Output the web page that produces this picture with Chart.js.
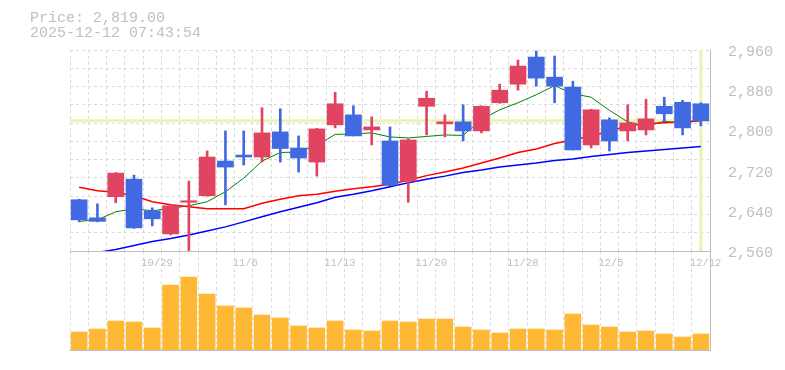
<!DOCTYPE html>
<html>
<head>
<meta charset="utf-8">
<script src="https://cdn.jsdelivr.net/npm/chart.js@4/dist/chart.umd.min.js"></script>
<style>
    body { margin: 0; background: #fff; }
    #wrap { position: relative; width: 785px; height: 370px; }
    #wrap canvas { position: absolute; left: 0; top: 0; }
    .head { position: absolute; left: 30px; font: 15px "Liberation Mono", monospace; color: #c0c0c0; line-height: 15px; white-space: pre; }
</style>
</head>
<body>
<div id="wrap">
    <canvas id="volChart" width="785" height="370"></canvas>
    <canvas id="priceChart" width="785" height="370"></canvas>
    <div class="head" id="priceText" style="top:11px"></div>
    <div class="head" id="timeText" style="top:26px"></div>
</div>
<script>
// --- DATA ---
const dates = ['10/23', '10/24', '10/27', '10/28', '10/29', '10/30', '10/31', '11/4', '11/5', '11/6',
    '11/7', '11/10', '11/11', '11/12', '11/13', '11/14', '11/17', '11/18', '11/19', '11/20',
    '11/21', '11/25', '11/26', '11/27', '11/28', '12/1', '12/2', '12/3', '12/4', '12/5',
    '12/8', '12/9', '12/10', '12/11', '12/12'];
const tickDates = ['10/29', '11/6', '11/13', '11/20', '11/28', '12/5', '12/12'];
const priceTicks = [2560, 2640, 2720, 2800, 2880, 2960];

const opens = [2662, 2626, 2668, 2703, 2640, 2594, 2657, 2670, 2739, 2751, 2747, 2797, 2765, 2737, 2811, 2831, 2801, 2779, 2699, 2848,
    2813, 2817, 2799, 2855, 2892, 2946, 2906, 2886, 2771, 2821, 2799, 2801, 2848, 2856, 2853];
const highs = [2663, 2654, 2716, 2711, 2646, 2651, 2699, 2759, 2799, 2799, 2845, 2843, 2789, 2804, 2876, 2849, 2827, 2807, 2783, 2878,
    2831, 2851, 2849, 2892, 2940, 2958, 2948, 2898, 2842, 2825, 2851, 2862, 2866, 2860, 2855];
const lows = [2618, 2618, 2656, 2605, 2610, 2592, 2561, 2669, 2652, 2731, 2737, 2737, 2717, 2709, 2805, 2789, 2771, 2690, 2657, 2791,
    2787, 2779, 2795, 2854, 2880, 2888, 2855, 2761, 2765, 2759, 2779, 2791, 2817, 2791, 2809];
const closes = [2622, 2619, 2715, 2606, 2624, 2650, 2660, 2747, 2727, 2747, 2795, 2764, 2745, 2803, 2853, 2789, 2807, 2691, 2781, 2864,
    2817, 2799, 2848, 2880, 2928, 2904, 2888, 2761, 2841, 2779, 2815, 2823, 2833, 2805, 2819];

const ma5 = [2619, 2622, 2638, 2644, 2640, 2645, 2650, 2658, 2678, 2705, 2739, 2756, 2757, 2770, 2792, 2793, 2795, 2787, 2785, 2788,
    2791, 2790, 2822, 2841, 2855, 2871, 2889, 2873, 2866, 2840, 2817, 2808, 2818, 2814, 2820];
const ma25 = [2687, 2680, 2677, 2670, 2658, 2652, 2648, 2644, 2644, 2644, 2655, 2663, 2670, 2673, 2679, 2684, 2688, 2693, 2701, 2710,
    2717, 2725, 2735, 2745, 2756, 2763, 2774, 2781, 2789, 2799, 2809, 2813, 2815, 2817, 2819];
const ma75 = [null, 2557, 2563, 2571, 2579, 2585, 2592, 2600, 2608, 2618, 2628, 2638, 2647, 2656, 2667, 2673, 2680, 2688, 2696, 2703,
    2709, 2716, 2721, 2727, 2731, 2735, 2740, 2743, 2748, 2752, 2756, 2759, 2762, 2765, 2768];

// volume, thousand shares
const volumes = [180, 210, 290, 280, 220, 650, 730, 560, 440, 420, 350, 320, 240, 220, 290, 200, 190, 290, 280, 310,
    310, 230, 200, 170, 210, 210, 200, 360, 250, 230, 180, 190, 160, 130, 160];

const lastPrice = 2819;
const stamp = '2025-12-12 07:43:54';

// --- STYLE ---
const UP = '#e04461', DOWN = '#4169e1', VOL = '#ffb833';
const GRID = '#dadada', AXIS = '#bdbdbd', TXT = '#bfbfbf', MARK = '#e6f5b4';
const candleCols = opens.map((o, i) => closes[i] >= o ? UP : DOWN);

document.getElementById('priceText').textContent = 'Price: ' + lastPrice.toLocaleString('en-US', { minimumFractionDigits: 2 });
document.getElementById('timeText').textContent = stamp;

const fixW = w => s => { s.width = w; };
const fixH = h => s => { s.height = h; };

// current price cross, drawn under the candles
const markerPlugin = {
    id: 'marker',
    beforeDatasetsDraw(chart) {
        const { ctx, chartArea: a, scales: { x, y } } = chart;
        const py = y.getPixelForValue(lastPrice), px = x.getPixelForValue(dates.length - 1);
        ctx.save();
        ctx.strokeStyle = MARK; ctx.lineWidth = 3;
        ctx.beginPath();
        ctx.moveTo(a.left, py); ctx.lineTo(a.right, py);
        ctx.moveTo(px, a.top); ctx.lineTo(px, a.bottom);
        ctx.stroke();
        ctx.restore();
    }
};

// --- PRICE CHART ---
const line = (data, color, w) => ({ type: 'line', data, borderColor: color, borderWidth: w, pointRadius: 0, tension: 0, yAxisID: 'y', order: 3 });

new Chart(document.getElementById('priceChart'), {
    data: {
        labels: dates,
        datasets: [
            line(ma75, '#0000ff', 1.5),
            line(ma25, '#ff0000', 1.5),
            line(ma5, '#008000', 1),
            { type: 'bar', data: lows.map((l, i) => [l, highs[i]]), backgroundColor: candleCols, barThickness: 2, grouped: false, yAxisID: 'y', order: 2 },
            { type: 'bar', data: opens.map((o, i) => [o, closes[i]]), backgroundColor: candleCols, barThickness: 16, grouped: false, yAxisID: 'y', order: 1 }
        ]
    },
    options: {
        responsive: false, animation: false, devicePixelRatio: 1,
        layout: { padding: { top: 50, left: 70, right: 0, bottom: 0 } },
        plugins: { legend: { display: false }, tooltip: { enabled: false } },
        scales: {
            x: {
                offset: true,
                grid: { offset: true, color: GRID, drawTicks: false },
                border: { display: true, color: AXIS, dash: [3, 3] },
                ticks: {
                    autoSkip: false, maxRotation: 0, align: 'start', labelOffset: -11, padding: 6,
                    color: TXT, font: { family: 'Liberation Mono', size: 10.5 },
                    callback: (v, i) => tickDates.includes(dates[i]) ? dates[i] : ''
                },
                afterFit: fixH(119)
            },
            y: {
                position: 'right', min: priceTicks[0], max: priceTicks[priceTicks.length - 1],
                afterBuildTicks: s => { s.ticks = priceTicks.map(v => ({ value: v })); },
                grid: { display: false },
                border: { display: true, color: AXIS },
                ticks: { color: TXT, padding: 10, labelOffset: 2, font: { family: 'Liberation Mono', size: 15 }, callback: v => v.toLocaleString('en-US') },
                afterFit: fixW(75)
            },
            grid: {
                position: 'left', min: 0, max: 11,
                ticks: { display: false, stepSize: 1 },
                grid: { color: c => c.tick.value === 0 ? 'transparent' : GRID, drawTicks: false },
                border: { display: false, dash: [3, 3] },
                afterFit: fixW(0)
            }
        }
    },
    plugins: [markerPlugin]
});

// --- VOLUME CHART ---
new Chart(document.getElementById('volChart'), {
    type: 'bar',
    data: { labels: dates, datasets: [{ data: volumes, backgroundColor: VOL, barThickness: 16 }] },
    options: {
        responsive: false, animation: false, devicePixelRatio: 1,
        layout: { padding: { top: 251, left: 70, right: 0, bottom: 0 } },
        plugins: { legend: { display: false }, tooltip: { enabled: false } },
        scales: {
            x: {
                offset: true,
                grid: { offset: true, color: GRID, drawTicks: false },
                border: { display: true, color: AXIS, dash: [3, 3] },
                ticks: { display: false },
                afterFit: fixH(20)
            },
            y: {
                position: 'right', min: 0, max: 990,
                grid: { display: false },
                border: { display: true, color: AXIS },
                ticks: { display: false },
                afterFit: fixW(75)
            }
        }
    }
});
</script>
</body>
</html>
